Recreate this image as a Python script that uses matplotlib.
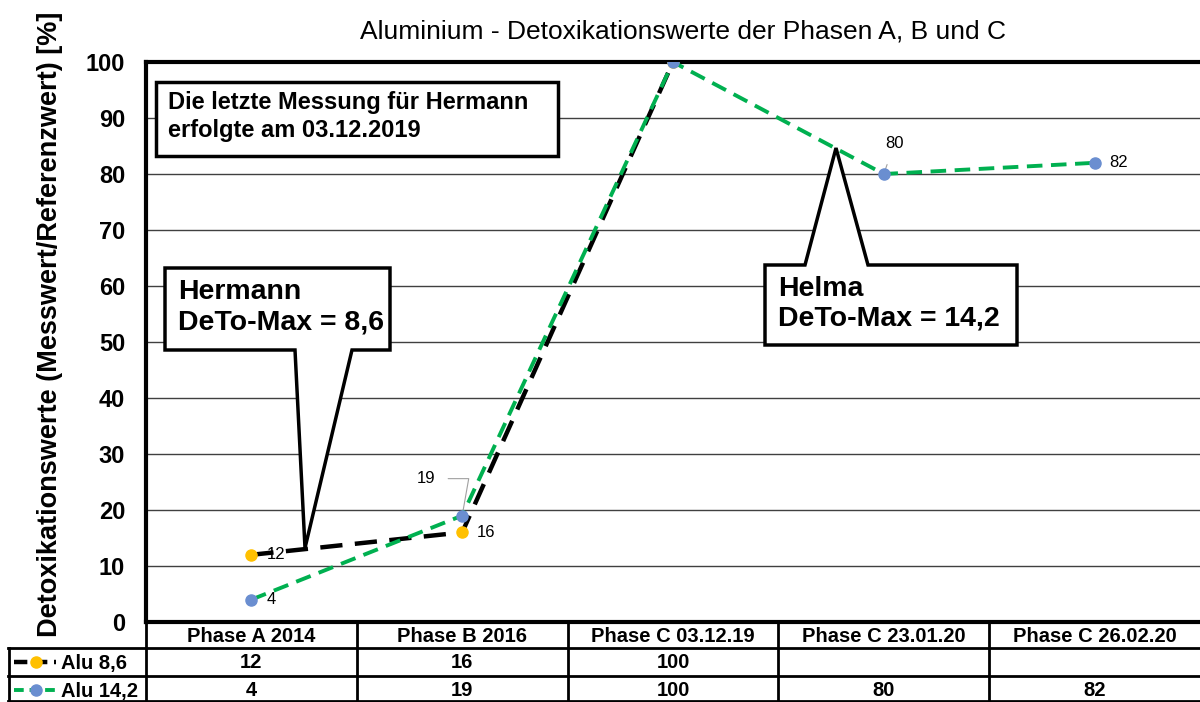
import numpy as np
import matplotlib
matplotlib.use('agg')
import matplotlib.pyplot as plt
from matplotlib.patches import Polygon
from matplotlib.lines import Line2D

plt.rcParams['font.family'] = ['Liberation Sans', 'DejaVu Sans']

# chart data
categories = ['Phase A 2014', 'Phase B 2016', 'Phase C 03.12.19',
              'Phase C 23.01.20', 'Phase C 26.02.20']
series_names = ['Alu 8,6', 'Alu 14,2']
alu_86 = [12, 16, 100, None, None]
alu_142 = [4, 19, 100, 80, 82]
yticks = list(range(0, 101, 10))

W, H = 1200, 702


def px(x, y):
    # pixel position -> figure fraction
    return x / W, 1 - y / H


fig = plt.figure(figsize=(12, 7.02), dpi=100)
ax = fig.add_axes([146 / W, 1 - 622 / H, (1200 - 146) / W, 560 / H])

xs = np.arange(len(categories)) + 0.5
ax.set_xlim(0, len(categories))
ax.set_ylim(0, 100)

ax.set_yticks(yticks)
ax.set_yticklabels([str(t) for t in yticks], fontsize=17, fontweight='bold')
ax.set_xticks([])
ax.tick_params(axis='y', length=0, pad=15)
ax.grid(axis='y', color='#404040', linewidth=1, zorder=0)
for s in ['left', 'top', 'bottom']:
    ax.spines[s].set_linewidth(3)
ax.spines['right'].set_visible(False)

fig.text(*px(50, 324), 'Detoxikationswerte (Messwert/Referenzwert) [%]',
         fontsize=19.5, fontweight='bold', rotation=90,
         ha='center', va='center')
fig.text(*px(683, 31), 'Aluminium - Detoxikationswerte der Phasen A, B und C',
         fontsize=19, ha='center', va='center')

# callouts (drawn in pixel space)
def callout(verts):
    pts = [px(x, y) for x, y in verts]
    fig.patches.append(Polygon(pts, closed=True, transform=fig.transFigure,
                               facecolor='white', edgecolor='black',
                               linewidth=2.5, zorder=3))

callout([(165, 268), (390, 268), (390, 350), (352, 350), (305, 548),
         (295, 350), (165, 350)])
callout([(765, 265), (805, 265), (836, 148), (868, 265), (1017, 265),
         (1017, 345), (765, 345)])
callout([(156, 82), (558, 82), (558, 156), (156, 156)])

big = dict(fontsize=20.5, fontweight='bold', va='center', ha='left', zorder=4)
fig.text(*px(178, 292), 'Hermann', **big)
fig.text(*px(178, 322), 'DeTo-Max = 8,6', **big)
fig.text(*px(778, 289), 'Helma', **big)
fig.text(*px(778, 319), 'DeTo-Max = 14,2', **big)
small = dict(fontsize=17, fontweight='bold', va='center', ha='left', zorder=4)
fig.text(*px(168, 103), 'Die letzte Messung für Hermann', **small)
fig.text(*px(168, 130), 'erfolgte am 03.12.2019', **small)

# series lines on a top overlay axes so they sit above the callouts
ov = fig.add_axes(ax.get_position(), sharex=ax, sharey=ax, zorder=5)
ov.patch.set_visible(False)
ov.axis('off')

y86 = np.array([np.nan if v is None else v for v in alu_86], dtype=float)
y142 = np.array(alu_142, dtype=float)
ov.plot(xs, y86, color='black', linewidth=3.2, dashes=(5, 2.8),
        marker='o', markersize=8, markerfacecolor='#FFC000',
        markeredgecolor='#FFC000', zorder=3)
ov.plot(xs, y142, color='#00B050', linewidth=2.8, dashes=(4, 2.2),
        marker='o', markersize=8, markerfacecolor='#6A8ED0',
        markeredgecolor='#6A8ED0', zorder=4)

# data labels
lab = dict(fontsize=12, va='center')
ov.text(xs[0] + 0.075, y86[0], '12', ha='left', **lab)
ov.text(xs[1] + 0.07, y86[1], '16', ha='left', **lab)
ov.text(xs[0] + 0.07, y142[0], '4', ha='left', **lab)
ov.text(xs[4] + 0.07, y142[4], '82', ha='left', **lab)
ov.annotate('19', xy=(xs[1], y142[1]), xytext=(xs[1] - 0.17, y142[1] + 6.6),
            ha='center', va='center', fontsize=12,
            arrowprops=dict(arrowstyle='-', color='#A0A0A0', lw=0.8,
                            shrinkA=7, shrinkB=2,
                            connectionstyle='angle,angleA=0,angleB=80,rad=0'))
ov.annotate('80', xy=(xs[3], y142[3]), xytext=(xs[3] + 0.05, y142[3] + 5.4),
            ha='center', va='center', fontsize=12,
            arrowprops=dict(arrowstyle='-', color='#A0A0A0', lw=0.8,
                            shrinkA=8, shrinkB=2))

# data table below the plot
col_x = [146 + i * (1200 - 146) / len(categories) for i in range(len(categories) + 1)]
rows_y = [622, 648, 676, 702]
lw = 2
def hline(x0, x1, y):
    fig.add_artist(Line2D([x0 / W, x1 / W], [1 - y / H, 1 - y / H],
                          color='black', linewidth=lw))
def vline(x, y0, y1):
    fig.add_artist(Line2D([x / W, x / W], [1 - y0 / H, 1 - y1 / H],
                          color='black', linewidth=lw))

hline(8, 1200, 648)
hline(8, 1200, 676)
hline(8, 1200, 701)
vline(9, 648, 702)
for x in col_x[:-1]:
    vline(x, 622, 702)

row_centers = [663, 691]
for i, c in enumerate(categories):
    cx = (col_x[i] + col_x[i + 1]) / 2
    fig.text(*px(cx, 636), c, ha='center', va='center', fontsize=14.5,
             fontweight='bold')
    for r, vals in enumerate([alu_86, alu_142]):
        if vals[i] is not None:
            fig.text(*px(cx, row_centers[r]), str(vals[i]),
                     ha='center', va='center', fontsize=14.5, fontweight='bold')

# legend keys in the table
keys = [dict(color='black', lw=3.2, dashes=(3, 1.5), mc='#FFC000'),
        dict(color='#00B050', lw=2.8, dashes=(2.5, 1.5), mc='#6A8ED0')]
for r, (name, k) in enumerate(zip(series_names, keys)):
    yc = row_centers[r] - 1
    fx = [14 / W, 56 / W]
    fy = [1 - yc / H] * 2
    fig.add_artist(Line2D(fx, fy, color=k['color'], linewidth=k['lw'],
                          dashes=k['dashes']))
    fig.add_artist(Line2D([36 / W], [1 - yc / H], marker='o', markersize=8,
                          markerfacecolor=k['mc'], markeredgecolor=k['mc'],
                          linestyle='none'))
    fig.text(*px(61, yc + 1), name, ha='left', va='center', fontsize=14.5,
             fontweight='bold')

fig.savefig('out.png', dpi=100)
